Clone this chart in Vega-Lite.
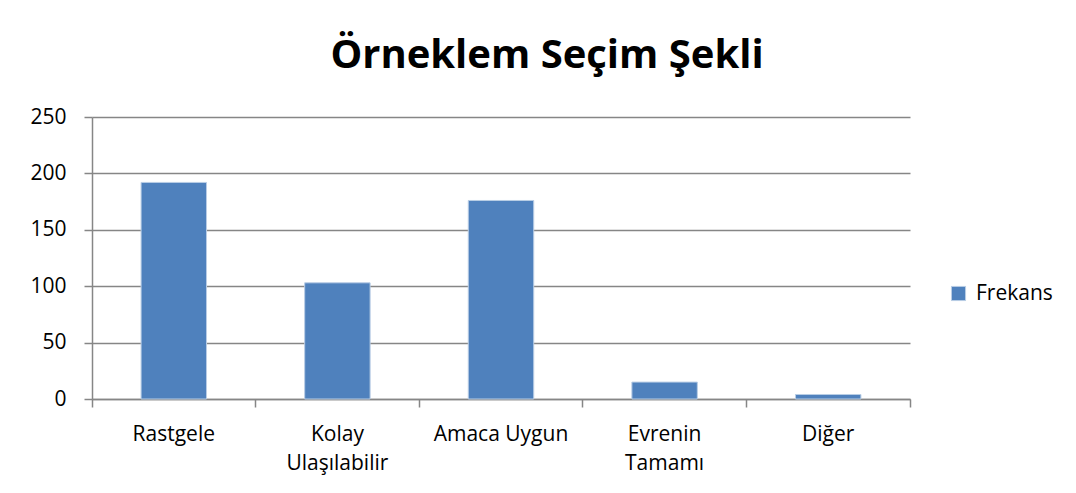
{
  "$schema": "https://vega.github.io/schema/vega-lite/v6.json",
  "autosize": "none",
  "width": 818,
  "height": 282,
  "padding": {"left": 92, "top": 117, "right": 166, "bottom": 94},
  "background": "white",
  "title": {
    "text": "Örneklem Seçim Şekli",
    "anchor": "middle",
    "frame": "group",
    "font": "Open Sans",
    "fontSize": 40,
    "fontWeight": "bold",
    "color": "black",
    "dx": 46,
    "baseline": "alphabetic",
    "offset": -2
  },
  "data": {
    "values": [
      {"kategori": "Rastgele", "frekans": 192, "seri": "Frekans"},
      {"kategori": "Kolay Ulaşılabilir", "frekans": 103, "seri": "Frekans"},
      {"kategori": "Amaca Uygun", "frekans": 176, "seri": "Frekans"},
      {"kategori": "Evrenin Tamamı", "frekans": 15, "seri": "Frekans"},
      {"kategori": "Diğer", "frekans": 4, "seri": "Frekans"}
    ]
  },
  "mark": {"type": "bar", "width": {"band": 0.4}},
  "encoding": {
    "x": {
      "field": "kategori",
      "type": "nominal",
      "sort": null,
      "scale": {"paddingInner": 0, "paddingOuter": 0},
      "axis": {
        "title": null,
        "labelAngle": 0,
        "labelFont": "Open Sans",
        "labelFontSize": 21,
        "labelColor": "black",
        "labelBaseline": "top",
        "labelPadding": 16,
        "labelLineHeight": 29,
        "labelExpr": "datum.label == 'Kolay Ulaşılabilir' ? ['Kolay', 'Ulaşılabilir'] : datum.label == 'Evrenin Tamamı' ? ['Evrenin', 'Tamamı'] : datum.label",
        "bandPosition": 1,
        "tickExtra": true,
        "tickSize": 8,
        "tickColor": "#868686",
        "tickWidth": 1.5,
        "domainColor": "#868686",
        "domainWidth": 1.5,
        "grid": false
      }
    },
    "y": {
      "field": "frekans",
      "type": "quantitative",
      "scale": {"domain": [0, 250], "nice": false},
      "axis": {
        "title": null,
        "values": [0, 50, 100, 150, 200, 250],
        "labelFont": "Open Sans",
        "labelFontSize": 21,
        "labelColor": "black",
        "labelPadding": 18,
        "tickSize": 8,
        "tickColor": "#868686",
        "tickWidth": 1.5,
        "domainColor": "#868686",
        "domainWidth": 1.5,
        "gridColor": "#868686",
        "gridWidth": 1.5
      }
    },
    "color": {
      "field": "seri",
      "type": "nominal",
      "scale": {"range": ["#4F81BD"]},
      "legend": {
        "title": null,
        "orient": "none",
        "legendX": 856,
        "legendY": 166,
        "symbolType": "square",
        "symbolSize": 200,
        "symbolStrokeWidth": 0,
        "labelFont": "Open Sans",
        "labelFontSize": 21,
        "labelColor": "black",
        "labelOffset": 7
      }
    }
  },
  "config": {
    "view": {"stroke": null},
    "bar": {"stroke": "#B9CDE5", "strokeWidth": 1}
  }
}
